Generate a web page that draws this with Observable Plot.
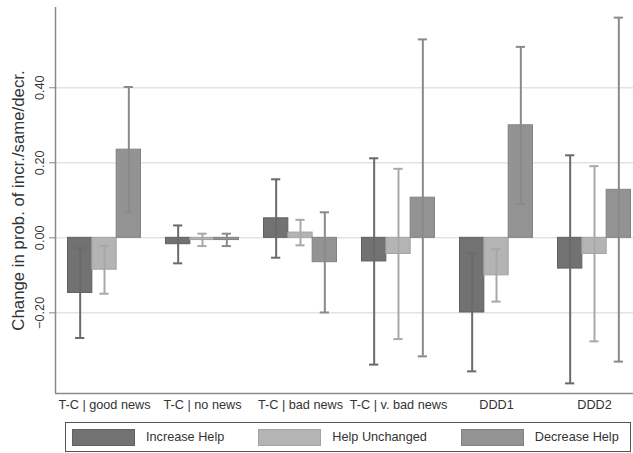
<!DOCTYPE html>
<html>
<head>
<meta charset="utf-8">
<script src="https://cdn.jsdelivr.net/npm/d3@7"></script>
<script src="https://cdn.jsdelivr.net/npm/@observablehq/plot@0.6"></script>
<style>
  html, body { margin: 0; padding: 0; background: white; overflow: hidden; }
  body { width: 633px; height: 453px; font-family: "Liberation Sans", Arial, sans-serif; }
  #legend {
    box-sizing: border-box;
    margin-left: 65px; width: 566px; height: 30px; margin-top: 4px;
    border: 1px solid #555; display: flex; align-items: center;
    padding-left: 6px; font-size: 12.7px; color: #333; white-space: nowrap;
  }
  .item { display: flex; align-items: center; margin-right: 34px; flex-shrink: 0; }
  .sw { width: 63px; height: 17px; box-sizing: border-box; margin-right: 11px; flex-shrink: 0; }
</style>
</head>
<body>
<div id="chart"></div>
<div id="legend"></div>
<script>
const groups = ["T-C | good news", "T-C | no news", "T-C | bad news", "T-C | v. bad news", "DDD1", "DDD2"];
const series = ["Increase Help", "Help Unchanged", "Decrease Help"];
const yTitle = "Change in prob. of incr./same/decr.";

const increase   = [-0.147, -0.017,  0.052, -0.063, -0.199, -0.082];
const increaseLo = [-0.267, -0.068, -0.053, -0.338, -0.356, -0.388];
const increaseHi = [-0.028,  0.033,  0.156,  0.212, -0.041,  0.220];

const unchanged   = [-0.085, -0.006,  0.014, -0.043, -0.100, -0.043];
const unchangedLo = [-0.149, -0.022, -0.020, -0.270, -0.170, -0.276];
const unchangedHi = [-0.022,  0.011,  0.048,  0.184, -0.030,  0.191];

const decrease   = [ 0.235, -0.006, -0.065,  0.107,  0.300,  0.128];
const decreaseLo = [ 0.068, -0.022, -0.199, -0.316,  0.091, -0.330];
const decreaseHi = [ 0.402,  0.011,  0.068,  0.529,  0.509,  0.587];

const yTicks = [-0.2, 0, 0.2, 0.4];

// styles
const fills   = ["#727272", "#b4b4b4", "#939393"];
const strokes = ["#606060", "#a2a2a2", "#828282"];
const errCols = ["#6a6a6a", "#a8a8a8", "#8a8a8a"];
const GW = 0.745;     // group width as fraction of group step
const CAP = 0.047;    // half cap width in group units
const FS = "12.7px";
const TITLE_FS = "16.8px";

const vals = [increase, unchanged, decrease];
const los = [increaseLo, unchangedLo, decreaseLo];
const his = [increaseHi, unchangedHi, decreaseHi];

const rows = groups.flatMap((g, i) => series.map((s, k) => {
  const x1 = i - GW / 2 + k * GW / 3;
  const x2 = x1 + GW / 3;
  return {group: g, gi: i, k, series: s, value: vals[k][i], lo: los[k][i], hi: his[k][i], x1, x2, xc: (x1 + x2) / 2};
}));

const yDomain = [-0.415, 0.614];
const fmt = d3.format(".2f");

const marks = [Plot.ruleY(yTicks, {stroke: "#e3e3e3", strokeWidth: 1.5})];
series.forEach((s, k) => {
  const d = rows.filter(r => r.k === k);
  marks.push(Plot.rectY(d, {x1: "x1", x2: "x2", y1: 0, y2: "value", fill: fills[k], stroke: strokes[k], strokeWidth: 1}));
});
series.forEach((s, k) => {
  const d = rows.filter(r => r.k === k);
  marks.push(Plot.ruleX(d, {x: "xc", y1: "lo", y2: "hi", stroke: errCols[k], strokeWidth: 2}));
  marks.push(Plot.ruleY(d, {y: "lo", x1: r => r.xc - CAP, x2: r => r.xc + CAP, stroke: errCols[k], strokeWidth: 2}));
  marks.push(Plot.ruleY(d, {y: "hi", x1: r => r.xc - CAP, x2: r => r.xc + CAP, stroke: errCols[k], strokeWidth: 2}));
});
marks.push(Plot.ruleX([-0.5], {stroke: "#8a8a8a", strokeWidth: 1.5}));
marks.push(Plot.ruleY([yDomain[0]], {stroke: "#8a8a8a", strokeWidth: 1.5}));
marks.push(Plot.axisY({ticks: yTicks, tickFormat: () => "", tickSize: 6, stroke: "#8a8a8a", label: null}));
marks.push(Plot.text(yTicks, {
  y: d => d, text: d => fmt(d), frameAnchor: "left", dx: -15.5, rotate: -90,
  textAnchor: "middle", lineAnchor: "middle", fontSize: FS, fill: "#333"
}));
marks.push(Plot.text([yTitle], {
  text: d => d, frameAnchor: "left", dx: -37, rotate: -90,
  textAnchor: "middle", lineAnchor: "middle", fontSize: TITLE_FS, fill: "#333"
}));
marks.push(Plot.axisX({
  ticks: d3.range(groups.length), tickFormat: i => groups[i], tickSize: 0, tickPadding: 6,
  color: "#333", fontSize: 12.7, label: null
}));

const chart = Plot.plot({
  width: 633, height: 418,
  marginLeft: 55, marginRight: -10, marginTop: 7, marginBottom: 25,
  style: {fontFamily: "'Liberation Sans', Arial, sans-serif", fontSize: FS, background: "white", overflow: "hidden"},
  x: {domain: [-0.5, groups.length - 0.5]},
  y: {domain: yDomain},
  marks
});
document.getElementById("chart").appendChild(chart);

const legend = document.getElementById("legend");
series.forEach((s, k) => {
  const it = document.createElement("div");
  it.className = "item";
  const sw = document.createElement("div");
  sw.className = "sw";
  sw.style.background = fills[k];
  sw.style.border = "1px solid " + strokes[k];
  const t = document.createElement("span");
  t.textContent = s;
  it.appendChild(sw); it.appendChild(t);
  legend.appendChild(it);
});
</script>
</body>
</html>
